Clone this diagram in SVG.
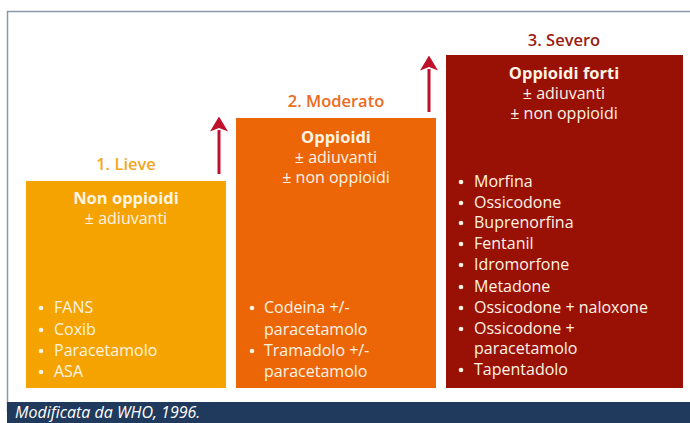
<svg xmlns="http://www.w3.org/2000/svg" width="690" height="423" viewBox="0 0 690 423">
<defs>
<style>
text{font-family:"Open Sans","Noto Sans","DejaVu Sans",sans-serif;}
.t{font-size:16.5px;text-anchor:middle;font-weight:600;}
.h{font-size:16px;text-anchor:middle;fill:#FFF4E4;}
.hb{font-weight:bold;font-size:16.5px;}
.li{font-size:16px;fill:#FFF4E4;}
.bul{fill:#FFF4E4;}
.arr{stroke:#C0112A;stroke-width:3;fill:none;}
</style>
<marker id="ah" markerWidth="5" markerHeight="6" refX="0.5" refY="3" orient="auto" markerUnits="strokeWidth">
<path d="M0,0 L5,3 L0,6 L1.2,3 Z" fill="#C0112A"/>
</marker>
</defs>
<rect x="0" y="0" width="690" height="423" fill="#FFFFFF"/>
<rect x="7.5" y="11.5" width="685" height="400" fill="none" stroke="#8A9AAC" stroke-width="1.5"/>
<rect x="7" y="402" width="683" height="21" fill="#1F3A5C"/>
<text x="15" y="418" font-size="16" font-style="italic" fill="#FFFFFF">Modificata da WHO, 1996.</text>

<g id="connectors">
<line class="arr" x1="219" y1="174" x2="219" y2="130" marker-end="url(#ah)"/>
<line class="arr" x1="429" y1="112" x2="429" y2="69" marker-end="url(#ah)"/>
</g>

<g id="step1">
<text class="t" x="126" y="170" fill="#F5A623">1. Lieve</text>
<rect x="26" y="181" width="200" height="207" fill="#F5A300"/>
<text class="h hb" x="126" y="204">Non oppioidi</text>
<text class="h" x="126" y="224">± adiuvanti</text>
<g class="li">
<circle class="bul" cx="41" cy="308" r="2.3"/><text x="54" y="313">FANS</text>
<circle class="bul" cx="41" cy="330" r="2.3"/><text x="54" y="335">Coxib</text>
<circle class="bul" cx="41" cy="351" r="2.3"/><text x="54" y="356">Paracetamolo</text>
<circle class="bul" cx="41" cy="372" r="2.3"/><text x="54" y="377">ASA</text>
</g>
</g>

<g id="step2">
<text class="t" x="336" y="107" fill="#EC6B1E">2. Moderato</text>
<rect x="236" y="118" width="200" height="270" fill="#EC6608"/>
<text class="h hb" x="336" y="143">Oppioidi</text>
<text class="h" x="336" y="163">± adiuvanti</text>
<text class="h" x="336" y="183">± non oppioidi</text>
<g class="li">
<circle class="bul" cx="252" cy="308" r="2.3"/><text x="264" y="313">Codeina +/-</text>
<text x="264" y="335">paracetamolo</text>
<circle class="bul" cx="252" cy="351" r="2.3"/><text x="264" y="356">Tramadolo +/-</text>
<text x="264" y="377">paracetamolo</text>
</g>
</g>

<g id="step3">
<text class="t" x="564" y="46" fill="#9B1B13">3. Severo</text>
<rect x="446" y="55" width="237" height="333" fill="#991005"/>
<text class="h hb" x="564" y="79">Oppioidi forti</text>
<text class="h" x="564" y="99">± adiuvanti</text>
<text class="h" x="564" y="119">± non oppioidi</text>
<g class="li">
<circle class="bul" cx="461" cy="182" r="2.3"/><text x="474" y="187">Morfina</text>
<circle class="bul" cx="461" cy="203" r="2.3"/><text x="474" y="208">Ossicodone</text>
<circle class="bul" cx="461" cy="223" r="2.3"/><text x="474" y="228">Buprenorfina</text>
<circle class="bul" cx="461" cy="244" r="2.3"/><text x="474" y="249">Fentanil</text>
<circle class="bul" cx="461" cy="265" r="2.3"/><text x="474" y="270">Idromorfone</text>
<circle class="bul" cx="461" cy="287" r="2.3"/><text x="474" y="292">Metadone</text>
<circle class="bul" cx="461" cy="308" r="2.3"/><text x="474" y="313">Ossicodone + naloxone</text>
<circle class="bul" cx="461" cy="329" r="2.3"/><text x="474" y="334">Ossicodone +</text>
<text x="474" y="354">paracetamolo</text>
<circle class="bul" cx="461" cy="370" r="2.3"/><text x="474" y="375">Tapentadolo</text>
</g>
</g>
</svg>
